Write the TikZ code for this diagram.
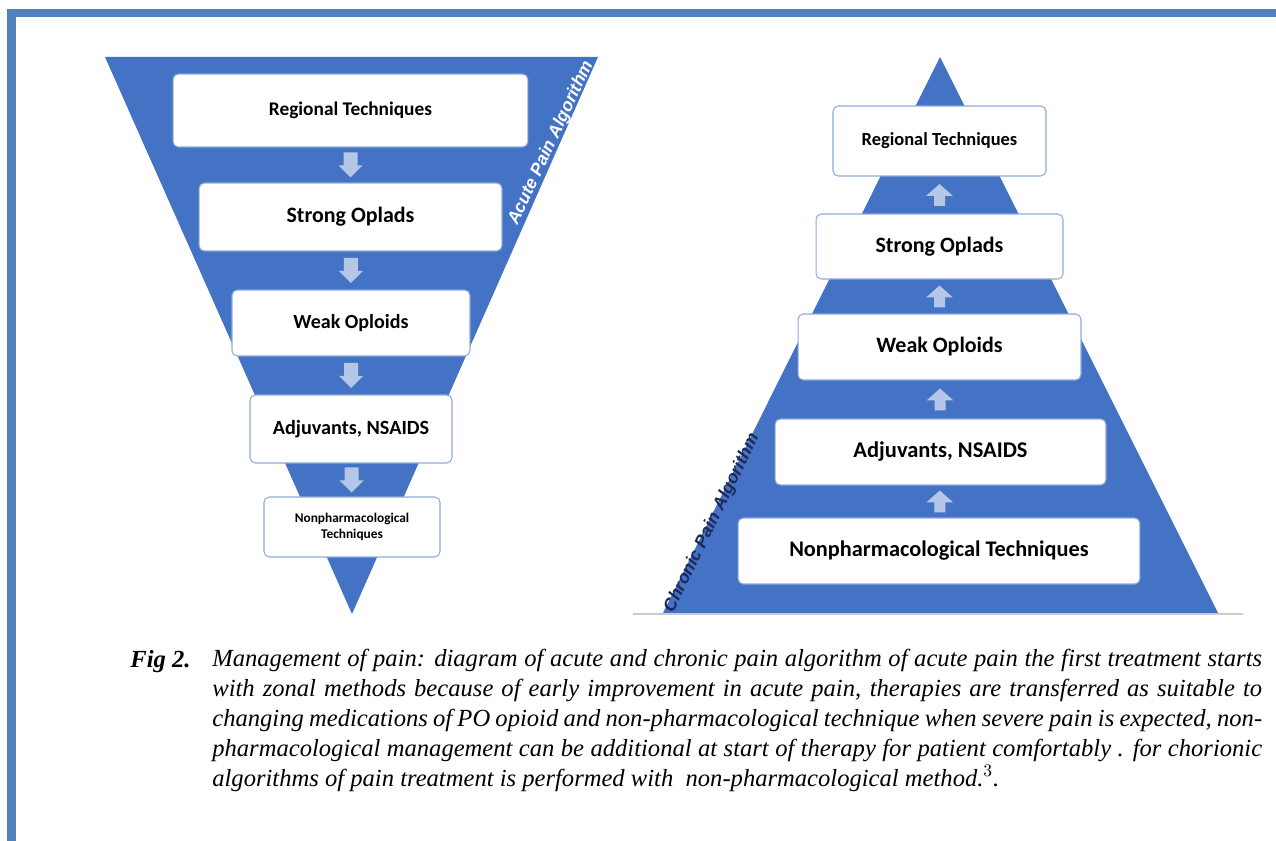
\documentclass[tikz,border=0pt]{standalone}
\usepackage{fontspec}
\setmainfont{Liberation Serif}
\newfontfamily\boxfont{Carlito}
\newfontfamily\labfont{Liberation Sans}
\usetikzlibrary{positioning}
\usetikzlibrary{calc}
\definecolor{frameblue}{RGB}{79,129,189}
\definecolor{pyrblue}{RGB}{68,114,196}
\definecolor{boxline}{RGB}{143,170,220}
\definecolor{arrowblue}{RGB}{180,199,231}
\definecolor{navytext}{RGB}{30,40,90}

\tikzset{
  stepbox/.style={draw=boxline, line width=0.6pt, fill=white, rounded corners=3pt,
    inner sep=0pt, align=center, font=\boxfont\bfseries},
  downarrow/.pic={
    \fill[arrowblue] (-7,-12.5)--++(14,0)--++(0,13)--++(5,0)--++(-12,12)--++(-12,-12)--++(5,0)--cycle;
  },
  uparrow/.pic={
    \fill[arrowblue] (-5.5,11)--++(11,0)--++(0,-10)--++(8,0)--++(-13.5,-12)--++(-13.5,12)--++(8,0)--cycle;
  },
}

\begin{document}
\begin{tikzpicture}[x=0.02cm, y=-0.02cm]
\useasboundingbox (0,0) rectangle (1276,841);

% frame
\fill[frameblue] (7,9) rectangle (1276,17);
\fill[frameblue] (7,9) rectangle (16,841);

% acute pain (left)
\begin{scope}
{
\fill[pyrblue] (105,57)--(598,57)--(352,614)--cycle;

\node[stepbox, minimum width=7.1cm, minimum height=1.46cm, font=\boxfont\bfseries\fontsize{11}{13}\selectfont] (al1) at (350.5,110.5) {Regional Techniques};
\node[stepbox, minimum width=6.06cm, minimum height=1.36cm, font=\boxfont\bfseries\fontsize{12.5}{14}\selectfont] (al2) at (350.5,217) {Strong Oplads};
\node[stepbox, minimum width=4.76cm, minimum height=1.32cm, font=\boxfont\bfseries\fontsize{11.4}{14}\selectfont] (al3) at (351,323) {Weak Oploids};
\node[stepbox, minimum width=4.04cm, minimum height=1.36cm, font=\boxfont\bfseries\fontsize{11.5}{14}\selectfont] (al4) at (351,429) {Adjuvants, NSAIDS};
\node[stepbox, minimum width=3.52cm, minimum height=1.2cm, font=\boxfont\bfseries\fontsize{7.6}{9.5}\selectfont] (al5) at (352,527) {Nonpharmacological\\Techniques};

\coordinate (ad1) at ($(al1.south)!0.5!(al2.north)$);
\coordinate (ad2) at ($(al2.south)!0.5!(al3.north)$);
\coordinate (ad3) at ($(al3.south)!0.5!(al4.north)$);
\coordinate (ad4) at ($(al4.south)!0.5!(al5.north)$);
\foreach \a in {ad1,ad2,ad3,ad4}
  \pic at (\a) {downarrow};

\node[rotate=65, text=white, font=\labfont\bfseries\itshape\fontsize{10}{12}\selectfont] (acute) at (551,143) {Acute Pain Algorithm};
}
\end{scope}

% chronic pain (right)
\begin{scope}
{
\fill[pyrblue] (940,57)--(1218,613)--(663,613)--cycle;
\draw[gray!40, line width=1.2pt] (633,614)--(1243,614);

\node[stepbox, minimum width=4.26cm, minimum height=1.4cm, font=\boxfont\bfseries\fontsize{10.5}{12}\selectfont] (cr1) at (939.5,141) {Regional Techniques};
\node[stepbox, minimum width=4.94cm, minimum height=1.3cm, font=\boxfont\bfseries\fontsize{12.5}{14}\selectfont] (cr2) at (939.5,246.5) {Strong Oplads};
\node[stepbox, minimum width=5.66cm, minimum height=1.32cm, font=\boxfont\bfseries\fontsize{12.5}{14}\selectfont] (cr3) at (939.5,347) {Weak Oploids};
\node[stepbox, minimum width=6.62cm, minimum height=1.32cm, font=\boxfont\bfseries\fontsize{12.8}{15}\selectfont] (cr4) at (940.5,452) {Adjuvants, NSAIDS};
\node[stepbox, minimum width=8.04cm, minimum height=1.32cm, font=\boxfont\bfseries\fontsize{12.7}{15}\selectfont] (cr5) at (939,551) {Nonpharmacological Techniques};

\coordinate (cu1) at ($(cr5.north)!0.5!(cr4.south)$);
\coordinate (cu2) at ($(cr4.north)!0.5!(cr3.south)$);
\coordinate (cu3) at ($(cr3.north)!0.5!(cr2.south)$);
\coordinate (cu4) at ($(cr2.north)!0.5!(cr1.south)$);
\foreach \a in {cu1,cu2,cu3,cu4}
  \pic at (\a) {uparrow};

\node[rotate=64, text=navytext, font=\labfont\bfseries\itshape\fontsize{10}{12}\selectfont] (chronic) at (712,523) {Chronic Pain Algorithm};
}
\end{scope}

% caption
\node[anchor=base west, inner sep=0pt, font=\bfseries\itshape\fontsize{14}{17}\selectfont] (fig) at (130,667) {Fig 2.};
\node[anchor=north west, inner sep=0pt, text width=21cm, align=justify, font=\itshape\fontsize{14}{17}\selectfont] (caption) at (212,649)
{Management of pain: diagram of acute and chronic pain algorithm of acute pain the first treatment starts\linebreak
with zonal methods because of early improvement in acute pain, therapies are transferred as suitable to\linebreak
changing medications of PO opioid and non-pharmacological technique when severe pain is expected, non-\linebreak
pharmacological management can be additional at start of therapy for patient comfortably . for chorionic\linebreak
algorithms of pain treatment is performed with\ \ non-pharmacological method.$^{3}$.};

\end{tikzpicture}
\end{document}
